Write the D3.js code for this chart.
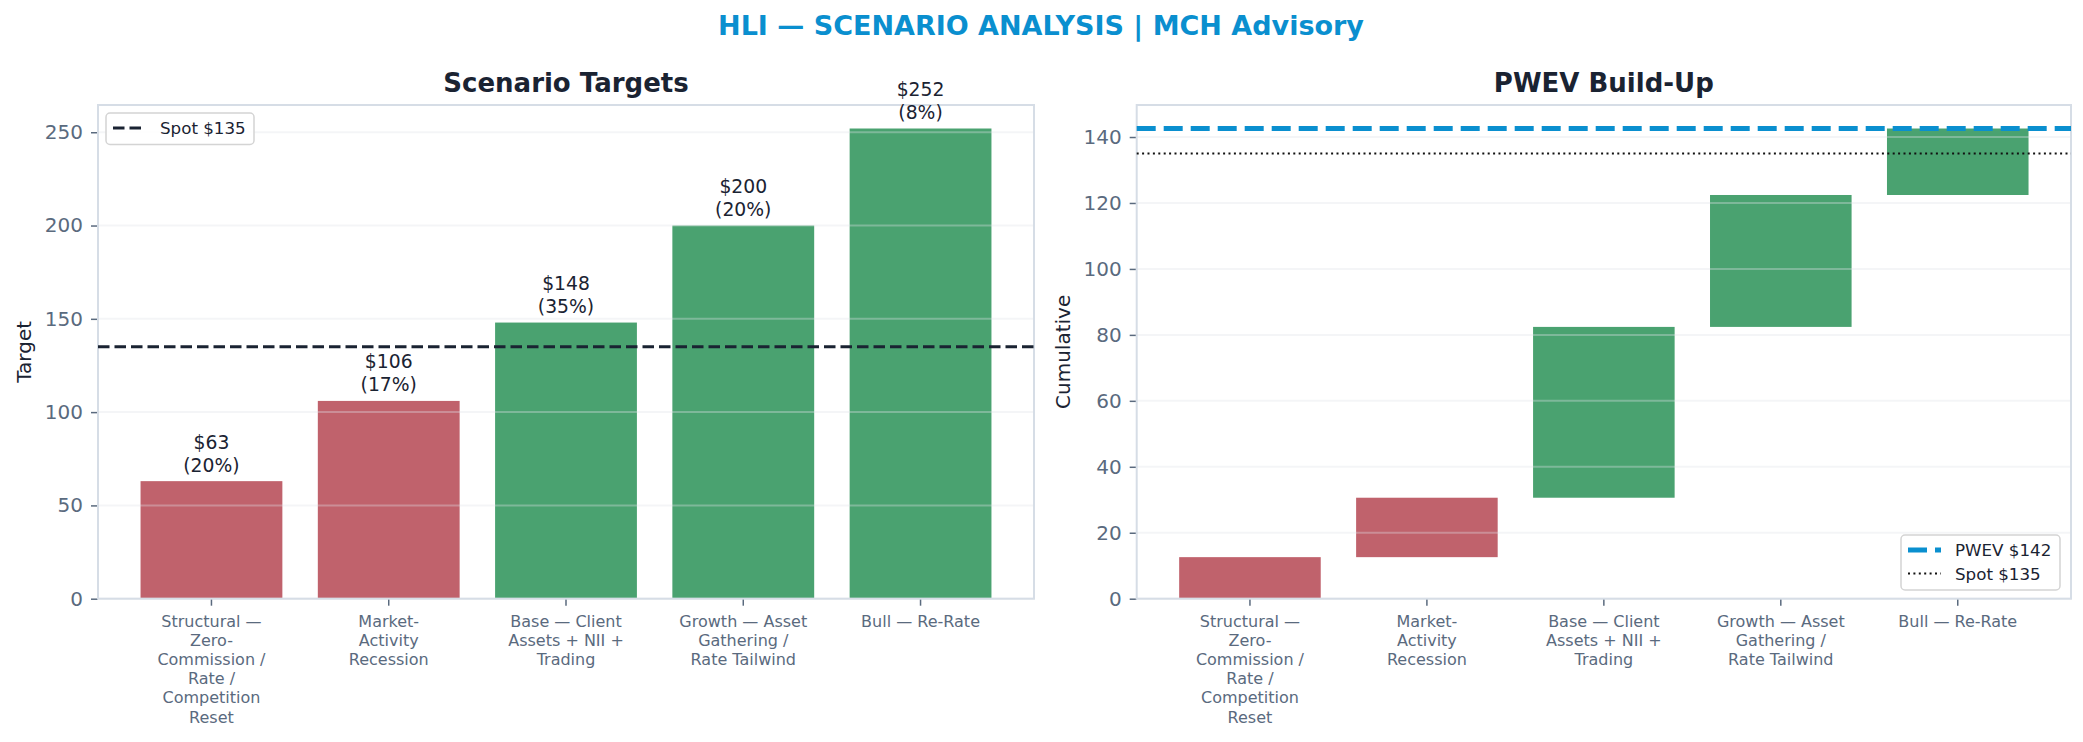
<!DOCTYPE html>
<html>
<head>
<meta charset="utf-8">
<script src="https://cdn.jsdelivr.net/npm/d3@7"></script>
<style>
  html, body { margin: 0; padding: 0; background: #fff; }
  svg { display: block; font-family: "DejaVu Sans", sans-serif; }
</style>
</head>
<body>
<div id="chart"></div>
<script>
// scenario data
var scenarios = [
  ["Structural \u2014", "Zero-", "Commission /", "Rate /", "Competition", "Reset"],
  ["Market-", "Activity", "Recession"],
  ["Base \u2014 Client", "Assets + NII +", "Trading"],
  ["Growth \u2014 Asset", "Gathering /", "Rate Tailwind"],
  ["Bull \u2014 Re-Rate"]
];
var targets = [63, 106, 148, 200, 252];
var probs = [0.20, 0.17, 0.35, 0.20, 0.08];
var spot = 135;
var leftTicks = [0, 50, 100, 150, 200, 250];
var rightTicks = [0, 20, 40, 60, 80, 100, 120, 140];

var RED = "#c0626c", GREEN = "#4aa270", NAVY = "#1a2332", BLUE = "#0a8fcf";
var TICKC = "#5a6a7e", SPINE = "#d6dde6";

var W = 2083, H = 742;
var svg = d3.select("#chart").append("svg").attr("width", W).attr("height", H);

svg.append("text")
  .attr("x", 1041).attr("y", 35)
  .attr("text-anchor", "middle")
  .attr("font-size", 27).attr("font-weight", "bold")
  .attr("fill", BLUE)
  .text("HLI \u2014 SCENARIO ANALYSIS | MCH Advisory");

// waterfall pieces
var contrib = targets.map(function(t, i){ return t * probs[i] })
var cum = [], run = 0
contrib.forEach(function(c){ cum.push([run, run + c]); run += c })
var pwev = run

var plotTop = 105, plotBottom = 598.7

function panel(x0, x1, title, ylabel, ymax) {
  var g = svg.append("g")
  var x = d3.scaleBand().domain(d3.range(targets.length))
    .range([x0, x1]).paddingInner(0.2).paddingOuter(0.24)
  var y = d3.scaleLinear().domain([0, ymax]).range([plotBottom, plotTop])

  g.append("text")
    .attr("x", (x0 + x1) / 2).attr("y", 92)
    .attr("text-anchor", "middle").attr("font-size", 26)
    .attr("font-weight", "bold").attr("fill", NAVY)
    .text(title)

  g.append("text")
    .attr("transform", "translate(" + (x0 - 67) + "," + ((plotTop + plotBottom) / 2) + ") rotate(-90)")
    .attr("text-anchor", "middle").attr("font-size", 20).attr("fill", NAVY)
    .text(ylabel)

  return {g: g, x: x, y: y, x0: x0, x1: x1}
}

function finish(p, ticks) {
  var g = p.g, x = p.x, y = p.y
  // grid lines sit above the bars, faint
  g.append("g").selectAll("line").data(ticks).enter().append("line")
    .attr("x1", p.x0).attr("x2", p.x1)
    .attr("y1", function(d){ return y(d) }).attr("y2", function(d){ return y(d) })
    .attr("stroke", "#dfe3e8").attr("stroke-opacity", 0.35).attr("stroke-width", 2)

  var yax = g.append("g").attr("transform", "translate(" + p.x0 + ",0)")
    .call(d3.axisLeft(y).tickValues(ticks).tickSize(7).tickPadding(8))
  yax.select(".domain").remove()
  yax.selectAll("text").attr("font-size", 20).attr("fill", TICKC).attr("font-family", "DejaVu Sans")
  yax.selectAll("line").attr("stroke", TICKC).attr("stroke-width", 1.5)

  var xax = g.append("g").attr("transform", "translate(0," + plotBottom + ")")
    .call(d3.axisBottom(x).tickSize(7).tickFormat(""))
  xax.select(".domain").remove()
  xax.selectAll("line").attr("stroke", TICKC).attr("stroke-width", 1.5)
  xax.selectAll(".tick").append("text")
    .attr("font-size", 16).attr("fill", TICKC).attr("text-anchor", "middle")
    .attr("font-family", "DejaVu Sans")
    .each(function(d){
      var t = d3.select(this)
      scenarios[d].forEach(function(line, k){
        t.append("tspan").attr("x", 0).attr("y", 28 + k * 19.2).text(line)
      })
    })

  g.append("rect")
    .attr("x", p.x0).attr("y", plotTop).attr("width", p.x1 - p.x0).attr("height", plotBottom - plotTop)
    .attr("fill", "none").attr("stroke", SPINE).attr("stroke-width", 2)
}

function legend(g, bx, by, bw, rows) {
  g.append("rect").attr("x", bx).attr("y", by).attr("width", bw).attr("height", rows.length * 23.5 + 8)
    .attr("rx", 4).attr("fill", "#fff").attr("fill-opacity", 0.85)
    .attr("stroke", "#d4d4d4").attr("stroke-width", 1.5)
  rows.forEach(function(r, i){
    var cy = by + 15 + i * 23.5
    g.append("line").attr("x1", bx + 7).attr("x2", bx + 40).attr("y1", cy).attr("y2", cy)
      .attr("stroke", r.color).attr("stroke-width", r.width).attr("stroke-dasharray", r.dash)
    g.append("text").attr("x", bx + 54).attr("y", cy + 6).attr("font-size", 16.7)
      .attr("fill", NAVY).text(r.label)
  })
}

// ---- left: scenario targets
var L = panel(98, 1034, "Scenario Targets", "Target", d3.max(targets) * 1.05)
L.g.append("g").selectAll("rect").data(targets).enter().append("rect")
  .attr("x", function(d, i){ return L.x(i) })
  .attr("width", L.x.bandwidth())
  .attr("y", function(d){ return L.y(d) })
  .attr("height", function(d){ return plotBottom - L.y(d) })
  .attr("fill", function(d){ return d < spot ? RED : GREEN })
finish(L, leftTicks)

L.g.append("line").attr("x1", L.x0).attr("x2", L.x1)
  .attr("y1", L.y(spot)).attr("y2", L.y(spot))
  .attr("stroke", NAVY).attr("stroke-width", 3.1).attr("stroke-dasharray", "11.5,5")

var lab = L.g.append("g").selectAll("text").data(targets).enter().append("text")
  .attr("text-anchor", "middle").attr("font-size", 18.75).attr("fill", NAVY)
lab.append("tspan")
  .attr("x", function(d, i){ return L.x(i) + L.x.bandwidth() / 2 })
  .attr("y", function(d){ return L.y(d) - 32.5 })
  .text(function(d){ return "$" + d })
lab.append("tspan")
  .attr("x", function(d, i){ return L.x(i) + L.x.bandwidth() / 2 })
  .attr("y", function(d){ return L.y(d) - 9.5 })
  .text(function(d, i){ return "(" + Math.round(probs[i] * 100) + "%)" })

legend(L.g, 106, 113, 148, [{color: NAVY, width: 3.1, dash: "11.5,5", label: "Spot $" + spot}])

// ---- right: PWEV build-up
var R = panel(1136.7, 2071, "PWEV Build-Up", "Cumulative", pwev * 1.05)
R.g.append("g").selectAll("rect").data(cum).enter().append("rect")
  .attr("x", function(d, i){ return R.x(i) })
  .attr("width", R.x.bandwidth())
  .attr("y", function(d){ return R.y(d[1]) })
  .attr("height", function(d){ return R.y(d[0]) - R.y(d[1]) })
  .attr("fill", function(d, i){ return targets[i] < spot ? RED : GREEN })
finish(R, rightTicks)

R.g.append("line").attr("x1", R.x0).attr("x2", R.x1)
  .attr("y1", R.y(pwev)).attr("y2", R.y(pwev))
  .attr("stroke", BLUE).attr("stroke-width", 5.2).attr("stroke-dasharray", "19,8")
R.g.append("line").attr("x1", R.x0).attr("x2", R.x1)
  .attr("y1", R.y(spot)).attr("y2", R.y(spot))
  .attr("stroke", "#111").attr("stroke-width", 2).attr("stroke-dasharray", "2,3.4")

legend(R.g, 1901, 535, 159, [
  {color: BLUE, width: 5.2, dash: "19,8", label: "PWEV $" + Math.floor(pwev)},
  {color: "#111", width: 2, dash: "2,3.4", label: "Spot $" + spot}
])
</script>
</body>
</html>
